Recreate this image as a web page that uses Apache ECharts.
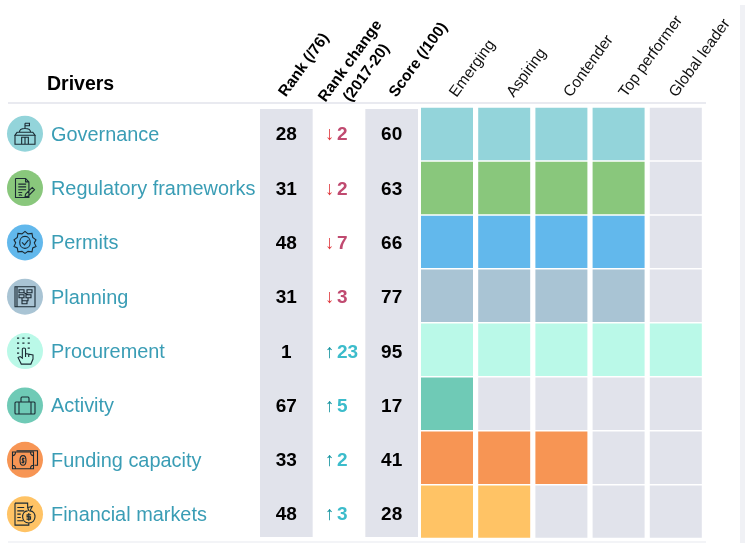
<!DOCTYPE html>
<html><head><meta charset="utf-8">
<style>html,body{margin:0;padding:0;background:#fff}#c{width:745px;height:543px}</style>
<script src="https://cdn.jsdelivr.net/npm/echarts@6/dist/echarts.min.js"></script>
</head><body><div id="c"></div>
<script>
const drivers = ['Governance','Regulatory frameworks','Permits','Planning','Procurement','Activity','Funding capacity','Financial markets'];
const ranks = [28,31,48,31,1,67,33,48];
const rankChanges = [-2,-2,-7,-3,23,5,2,3];
const scores = [60,63,66,77,95,17,41,28];
const tiersReached = [4,4,4,4,5,1,3,2];
const tiers = ['Emerging','Aspiring','Contender','Top performer','Global leader'];
const tableColumns = ['Rank (/76)','Rank change\n(2017-20)','Score (/100)'];
const rowColors = ['#93D4DA','#89C77C','#62B8EC','#A9C4D4','#BAF9E8','#6FCAB6','#F79554','#FFC365'];
const EMPTY = '#E1E3EB';
const FONT = '"Liberation Sans", Arial, sans-serif';

// header text placement relative to each column's axis position
const tableHeaderOffset = [[-4,-13],[19.5,-41],[1,-12.5]];
const tableHeaderAlign = ['left','center','left'];
const tierHeaderOffset = [[6,-11.5],[6,-11.5],[6,-11.5],[4,-11.5],[-3,-11.5]];
const ROT = 54*Math.PI/180;

// icon outlines: [width, height, path]
const icons = [
 [20,21,'M10 0V5M10 0H14V2.5H10M5 9C5 4 15 4 15 9M3 9H17L19 12H1L3 9M1 12V21H19V12M7 21V14H13V21M10 14V21M1 21H19'],
 [19,19,'M2 1H11L14 4V18H2V1M11 1V4H14M4.5 6H11.5M4.5 8.5H11.5M4.5 11H11.5M4.5 13.5H8M5 16C6 15 7 16 8 16M11 15L17 9L19 11L13 17L10.5 17.5Z'],
 [22,22,'M11 0L14 2.5L18 2L18.7 6L22 8.5L20.3 11.5L22 15L18.7 16.5L18 20.5L14 20L11 22L8 20L4 20.5L3.3 16.5L0 15L1.7 11.5L0 8.5L3.3 6L4 2L8 2.5ZM11 5C4 5 4 17 11 17C18 17 18 5 11 5ZM8 11L10.5 13.5L14.5 8.5'],
 [20,20,'M0 0H20V20H0ZM2 0V20M4 3H9V6H4ZM4 8H9V11H4ZM11 8H16V11H11ZM7 11V14M7 14H12V17H7ZM9 6L13 8M13 11V14H12M12 3H17V6H12Z'],
 [16,26,'M1 0H3M6 0H8M11 0H13M1 5H3M6 5H8M11 5H13M1 10H3M11 10H13M1 15H3M6 11V20L4 18.5L2 19.5L5 26H14L16 21V17L9 15.5V11C9 9.5 6 9.5 6 11ZM9 15.5V19M12 16.5V19'],
 [20,17,'M1 5H19C20 5 20 6 20 6V16C20 17 19 17 19 17H1C0 17 0 16 0 16V6C0 6 0 5 1 5ZM6 5V1.5C6 0 7 0 7 0H13C14 0 14 1.5 14 1.5V5M4 5V17M16 5V17'],
 [25,18,'M4 3H25V15H22M0 4H21V18H0ZM0 7C2 7 3 6 3 4M21 7C19 7 18 6 18 4M0 15C2 15 3 16 3 18M21 15C19 15 18 16 18 18M10.5 7C6.5 7 6.5 15 10.5 15C14.5 15 14.5 7 10.5 7ZM12 9.5C10 8.5 9 10.5 10.5 11C12 11.5 12 13.5 9 12.5M10.5 8.5V13.5'],
 [20,22,'M1 2H12V6M1 2V22H13V20M3 6H9M3 9H9M3 12H6M3 15H6M3 18H8M12 9C6 9 6 20 13 20C20 20 20 9 14 9L16 5L12 6L13 9M13 11V18M15 12.5H11.5V14.5H14.5V16.5H11']
];

const scoreData = scores.map((s,i)=>[tableColumns[2], i, s]);
const rankData = ranks.map((r,i)=>[tableColumns[0], i, r]);
const changeData = rankChanges.map((c,i)=>[tableColumns[1], i, c]);
const heatData = [];
drivers.forEach((d,r)=>tiers.forEach((t,c)=>heatData.push([c,r,c<tiersReached[r]?1:0])));

const numLabel = {show:true,position:'inside',fontSize:19,fontWeight:'bold',color:'#000',opacity:1,fontFamily:FONT,formatter:p=>p.value[2]};
const option = {
 animation:false,
 backgroundColor:'#fff',
 textStyle:{fontFamily:FONT},
 title:{text:'Drivers',left:47,top:75,textStyle:{fontFamily:FONT,fontSize:19.5,fontWeight:'bold',color:'#000'},padding:0},
 graphic:[
  {type:'rect',shape:{x:8,y:102,width:698,height:2},style:{fill:'#E9EAF0'},silent:true},
  {type:'rect',shape:{x:8,y:541,width:698,height:2},style:{fill:'#F3F4F7'},silent:true},
  {type:'rect',shape:{x:740,y:5,width:5,height:538},style:{fill:'#F0F1F5'},silent:true}
 ],
 grid:[
  {left:7,top:108,width:250,height:434.8},
  {left:260,top:108,width:158,height:434.4},
  {left:260,top:109,width:158,height:428},
  {left:418.4,top:107,width:286,height:431.6}
 ],
 xAxis:[
  {gridIndex:0,type:'value',min:0,max:1,show:false},
  {gridIndex:1,type:'category',position:'top',data:tableColumns,
   axisLine:{show:false},axisTick:{show:false},axisLabel:{show:false}},
  {gridIndex:2,type:'category',data:tableColumns,show:false},
  {gridIndex:3,type:'category',position:'top',data:tiers,
   axisLine:{show:false},axisTick:{show:false},axisLabel:{show:false}}
 ],
 yAxis:[
  {gridIndex:0,type:'category',inverse:true,data:drivers,
   axisLine:{show:false},axisTick:{show:false},
   axisLabel:{inside:true,margin:44,fontSize:19.9,color:'#3A9DB5',fontFamily:FONT,align:'left'}},
  {gridIndex:1,type:'category',inverse:true,data:drivers,show:false},
  {gridIndex:2,type:'value',min:0,max:1,show:false},
  {gridIndex:3,type:'category',inverse:true,data:drivers,show:false}
 ],
 series:[
  {type:'custom',xAxisIndex:0,yAxisIndex:0,clip:false,data:drivers.map((d,i)=>[0,i]),
   renderItem:(p,api)=>{
    const i=p.dataIndex, c=api.coord([0,i]), cx=c[0]+18, cy=c[1]-1.5;
    const ic=icons[i];
    return {type:'group',children:[
     {type:'circle',shape:{cx,cy,r:18},style:{fill:rowColors[i]}},
     {type:'path',shape:{pathData:ic[2],x:cx-ic[0]/2,y:cy-ic[1]/2,width:ic[0],height:ic[1],layout:'cover'},
      style:{fill:'none',stroke:'#1B2A33',lineWidth:1.1}}
    ]};
   }},
  {type:'bar',xAxisIndex:2,yAxisIndex:2,barWidth:'100%',z:1,silent:true,
   data:[1,0,1],itemStyle:{color:EMPTY}},
  {type:'custom',xAxisIndex:1,yAxisIndex:1,clip:false,z:3,data:tableColumns.map((t,i)=>[i]),encode:{x:0},
   renderItem:(p,api)=>{
    const i=p.dataIndex, c=api.coord([i,0]), s=api.size([1,1]), o=tableHeaderOffset[i];
    return {type:'text',x:c[0]+o[0],y:c[1]-s[1]/2+o[1],rotation:ROT,style:{
     text:tableColumns[i],align:tableHeaderAlign[i],verticalAlign:'middle',
     fontFamily:FONT,fontSize:15.5,fontWeight:'bold',fill:'#000',lineHeight:20}};
   }},
  {type:'custom',xAxisIndex:3,yAxisIndex:3,clip:false,z:3,data:tiers.map((t,i)=>[i]),encode:{x:0},
   renderItem:(p,api)=>{
    const i=p.dataIndex, c=api.coord([i,0]), s=api.size([1,1]), o=tierHeaderOffset[i];
    return {type:'text',x:c[0]+o[0],y:c[1]-s[1]/2+o[1],rotation:ROT,style:{
     text:tiers[i],align:'left',verticalAlign:'middle',
     fontFamily:FONT,fontSize:15.5,fill:'#111'}};
   }},
  {type:'scatter',xAxisIndex:1,yAxisIndex:1,symbolSize:0,z:3,data:rankData,encode:{x:0,y:1},label:numLabel},
  {type:'scatter',xAxisIndex:1,yAxisIndex:1,symbolSize:0,z:3,data:scoreData,encode:{x:0,y:1},label:numLabel},
  {type:'custom',xAxisIndex:1,yAxisIndex:1,clip:false,z:3,data:changeData,encode:{x:0,y:1},
   renderItem:(p,api)=>{
    const v=api.value(2), c=api.coord([1,p.dataIndex]), up=v>0;
    return {type:'text',x:c[0]-14,y:c[1],style:{
     text:`{a|${up?'↑':'↓'}}{n|${Math.abs(v)}}`,
     verticalAlign:'middle',align:'left',
     rich:{
      a:{fontFamily:FONT,fontSize:19,fontWeight:'normal',fill:up?'#14939F':'#E03A3E',width:12},
      n:{fontFamily:FONT,fontSize:19,fontWeight:'bold',fill:up?'#3CBCCB':'#C04A70'}
     }}};
   }},
  {type:'custom',xAxisIndex:3,yAxisIndex:3,data:heatData,encode:{x:0,y:1},
   renderItem:(p,api)=>{
    const c=api.coord([api.value(0),api.value(1)]), s=api.size([1,1]);
    const w=s[0]-5.2, h=s[1]-1.5;
    return {type:'rect',shape:{x:c[0]-w/2,y:c[1]-h/2,width:w,height:h},
     style:{fill:api.value(2)?rowColors[api.value(1)]:EMPTY}};
   }}
 ]
};
const chart = echarts.init(document.getElementById('c'),null,{renderer:'canvas'});
chart.setOption(option);
</script></body></html>
